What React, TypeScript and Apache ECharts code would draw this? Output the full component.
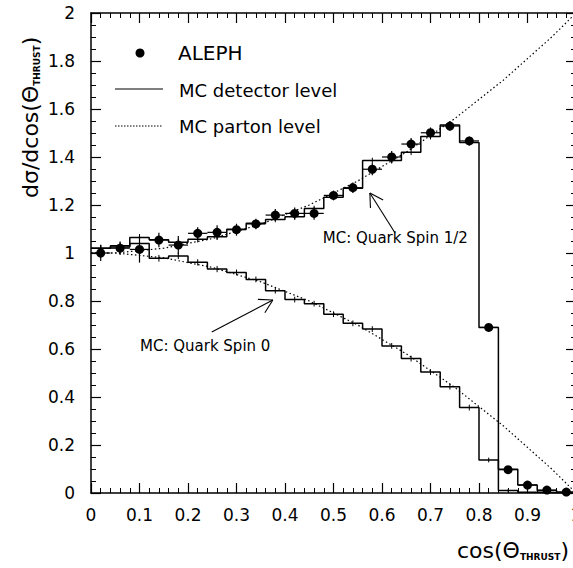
import React, { useEffect, useRef } from "react";
import * as echarts from "echarts";

const FONT = "DejaVu Sans";

// bin structure (cos theta_thrust), 25 bins of 0.04
const binEdges = [0, 0.04, 0.08, 0.12, 0.16, 0.2, 0.24, 0.28, 0.32, 0.36, 0.4, 0.44, 0.48, 0.52, 0.56, 0.6, 0.64, 0.68, 0.72, 0.76, 0.8, 0.84, 0.88, 0.92, 0.96, 1.0];
const binCenters = [0.02, 0.06, 0.1, 0.14, 0.18, 0.22, 0.26, 0.3, 0.34, 0.38, 0.42, 0.46, 0.5, 0.54, 0.58, 0.62, 0.66, 0.7, 0.74, 0.78, 0.82, 0.86, 0.9, 0.94, 0.98];
const binHalfWidth = 0.02;

// ALEPH data
const alephValues = [1.0, 1.02, 1.015, 1.054, 1.033, 1.082, 1.086, 1.097, 1.121, 1.158, 1.165, 1.165, 1.24, 1.272, 1.349, 1.4, 1.454, 1.501, 1.529, 1.467, 0.69, 0.097, 0.033, 0.012, 0.004];
const alephErrors = [0.033, 0.028, 0.055, 0.03, 0.038, 0.025, 0.03, 0.025, 0.022, 0.025, 0.025, 0.026, 0.02, 0.022, 0.025, 0.025, 0.025, 0.022, 0.02, 0.018, 0.012, 0.008, 0.005, 0.004, 0.003];

// MC detector level histograms
const mcSpinHalf = [1.02, 1.03, 1.065, 1.055, 1.045, 1.057, 1.068, 1.099, 1.124, 1.14, 1.151, 1.185, 1.232, 1.27, 1.385, 1.385, 1.42, 1.485, 1.533, 1.46, 0.69, 0.099, 0.033, 0.01, 0.003];
const mcSpinZero = [1.02, 1.025, 1.04, 0.978, 0.9875, 0.961, 0.933, 0.919, 0.89, 0.843, 0.806, 0.789, 0.745, 0.707, 0.683, 0.613, 0.56, 0.504, 0.443, 0.356, 0.1375, 0.01, 0.003, 0.001, 0.0];
const mcErrors = [0.014, 0.014, 0.014, 0.014, 0.013, 0.013, 0.013, 0.012, 0.012, 0.012, 0.012, 0.012, 0.012, 0.012, 0.012, 0.012, 0.012, 0.012, 0.012, 0.012, 0.01, 0.006, 0.004, 0.003, 0.002];

// MC parton level curves
const partonX = [0, 0.05, 0.1, 0.15, 0.2, 0.25, 0.3, 0.35, 0.4, 0.45, 0.5, 0.55, 0.6, 0.65, 0.7, 0.75, 0.8, 0.85, 0.9, 0.95, 1.0];
const partonSpinHalf = [1.0, 1.0, 1.01, 1.02, 1.04, 1.06, 1.09, 1.12, 1.16, 1.2, 1.25, 1.3, 1.36, 1.42, 1.49, 1.56, 1.64, 1.72, 1.81, 1.9, 2.0];
const partonSpinZero = [1.0, 1.0, 0.99, 0.98, 0.96, 0.94, 0.91, 0.88, 0.84, 0.8, 0.75, 0.7, 0.64, 0.58, 0.51, 0.44, 0.36, 0.28, 0.19, 0.1, 0.0];

// annotations: [tipX, tipY, tailX, tailY, labelX, labelY]
const annotationTexts = ["MC: Quark Spin 1/2", "MC: Quark Spin 0"];
const annotationGeom = [
  [0.575, 1.25, 0.627, 1.083, 0.478, 1.062],
  [0.375, 0.804, 0.249, 0.671, 0.101, 0.612],
];

const legendLabels = ["ALEPH", "MC detector level", "MC parton level"];

function histData(values: number[]) {
  const d: number[][] = values.map((v, i) => [binEdges[i], v]);
  d.push([binEdges[binEdges.length - 1], values[values.length - 1]]);
  return d;
}

export default function App() {
  const ref = useRef<HTMLDivElement>(null);
  useEffect(() => {
    const chart = echarts.init(ref.current!, null, { renderer: "svg" });
    const black = "#000";
    const axisCommon = (pos: string, showLabel: boolean, isX: boolean) => ({
      type: "value",
      position: pos,
      min: 0,
      max: isX ? 1 : 2,
      interval: isX ? 0.1 : 0.2,
      axisLine: { show: true, onZero: false, lineStyle: { color: black, width: 1.5 } },
      axisTick: { show: true, inside: true, length: 10, lineStyle: { color: black, width: 1.2 } },
      minorTick: { show: true, splitNumber: isX ? 5 : 4, length: 5, lineStyle: { color: black, width: 1 } },
      splitLine: { show: false },
      axisLabel: {
        show: showLabel,
        margin: isX ? 13 : 16,
        fontSize: 17,
        fontFamily: FONT,
        color: black,
        showMinLabel: true,
        showMaxLabel: true,
        hideOverlap: false,
        formatter: (v: number) => (v === 0 ? "0" : Number.isInteger(v) ? String(v) : v.toFixed(1)),
      },
    });

    const errBarItem = (params: any, api: any) => {
      const x = api.value(0), y = api.value(1), e = api.value(2);
      const h1 = api.coord([x - binHalfWidth, y]);
      const h2 = api.coord([x + binHalfWidth, y]);
      const v1 = api.coord([x, y - e]);
      const v2 = api.coord([x, y + e]);
      return {
        type: "group",
        children: [
          { type: "line", shape: { x1: h1[0], y1: h1[1], x2: h2[0], y2: h2[1] }, style: { stroke: black, lineWidth: 1.2 } },
          { type: "line", shape: { x1: v1[0], y1: v1[1], x2: v2[0], y2: v2[1] }, style: { stroke: black, lineWidth: 1.2 } },
        ],
      };
    };
    const mcErrItem = (params: any, api: any) => {
      const x = api.value(0), y = api.value(1), e = api.value(2);
      const v1 = api.coord([x, y - e]);
      const v2 = api.coord([x, y + e]);
      return { type: "line", shape: { x1: v1[0], y1: v1[1], x2: v2[0], y2: v2[1] }, style: { stroke: black, lineWidth: 1 } };
    };
    const annotItem = (params: any, api: any) => {
      const tip = api.coord([api.value(0), api.value(1)]);
      const tail = api.coord([api.value(2), api.value(3)]);
      const lab = api.coord([api.value(4), api.value(5)]);
      const ang = Math.atan2(tail[1] - tip[1], tail[0] - tip[0]);
      const L = 15, da = (30 * Math.PI) / 180;
      const a1 = [tip[0] + L * Math.cos(ang + da), tip[1] + L * Math.sin(ang + da)];
      const a2 = [tip[0] + L * Math.cos(ang - da), tip[1] + L * Math.sin(ang - da)];
      const st = { stroke: black, lineWidth: 1.1 };
      return {
        type: "group",
        children: [
          { type: "line", shape: { x1: tail[0], y1: tail[1], x2: tip[0], y2: tip[1] }, style: st },
          { type: "line", shape: { x1: tip[0], y1: tip[1], x2: a1[0], y2: a1[1] }, style: st },
          { type: "line", shape: { x1: tip[0], y1: tip[1], x2: a2[0], y2: a2[1] }, style: st },
          {
            type: "text",
            x: lab[0],
            y: lab[1],
            style: { text: annotationTexts[params.dataIndex], font: `15px '${FONT}'`, fill: black, align: "left", verticalAlign: "middle" },
          },
        ],
      };
    };

    const option: any = {
      animation: false,
      backgroundColor: "#fff",
      grid: { left: 91, top: 13, width: 485, height: 480, containLabel: false, outerBoundsMode: "none" },
      xAxis: [axisCommon("bottom", true, true), axisCommon("top", false, true)],
      yAxis: [axisCommon("left", true, false), axisCommon("right", false, false)],
      series: [
        {
          type: "line", step: "end", data: histData(mcSpinHalf), showSymbol: false, symbol: "none",
          lineStyle: { color: black, width: 1.5 }, z: 3,
        },
        {
          type: "line", step: "end", data: histData(mcSpinZero), showSymbol: false, symbol: "none",
          lineStyle: { color: black, width: 1.5 }, z: 3,
        },
        {
          type: "custom", renderItem: mcErrItem, encode: { x: 0, y: 1 },
          data: binCenters.map((x, i) => [x, mcSpinHalf[i], mcErrors[i]]), z: 3,
        },
        {
          type: "custom", renderItem: mcErrItem, encode: { x: 0, y: 1 },
          data: binCenters.map((x, i) => [x, mcSpinZero[i], mcErrors[i]]), z: 3,
        },
        {
          type: "line", data: partonX.map((x, i) => [x, partonSpinHalf[i]]), showSymbol: false, symbol: "none",
          lineStyle: { color: black, width: 1.2, type: [1.5, 2.5] }, z: 2,
        },
        {
          type: "line", data: partonX.map((x, i) => [x, partonSpinZero[i]]), showSymbol: false, symbol: "none",
          lineStyle: { color: black, width: 1.2, type: [1.5, 2.5] }, z: 2,
        },
        {
          type: "custom", renderItem: errBarItem, encode: { x: 0, y: 1 },
          data: binCenters.map((x, i) => [x, alephValues[i], alephErrors[i]]), z: 4,
        },
        {
          type: "scatter", symbol: "circle", symbolSize: 9, itemStyle: { color: black, opacity: 1 },
          data: binCenters.map((x, i) => [x, alephValues[i]]), z: 5,
        },
        {
          type: "custom", renderItem: annotItem, encode: { x: 0, y: 1 }, clip: false,
          data: annotationGeom, z: 6,
        },
      ],
      graphic: [
        // legend
        { type: "circle", shape: { cx: 140, cy: 53, r: 4.5 }, style: { fill: black } },
        { type: "text", x: 178, y: 53, style: { text: legendLabels[0], font: `20px '${FONT}'`, fill: black, align: "left", verticalAlign: "middle" } },
        { type: "line", shape: { x1: 115, y1: 89, x2: 163, y2: 89 }, style: { stroke: black, lineWidth: 1.2 } },
        { type: "text", x: 179, y: 90, style: { text: legendLabels[1], font: `18px '${FONT}'`, fill: black, align: "left", verticalAlign: "middle" } },
        { type: "line", shape: { x1: 115, y1: 126, x2: 163, y2: 126 }, style: { stroke: black, lineWidth: 1.2, lineDash: [1.5, 1.5] } },
        { type: "text", x: 179, y: 126, style: { text: legendLabels[2], font: `18px '${FONT}'`, fill: black, align: "left", verticalAlign: "middle" } },
        // y axis title
        {
          type: "text", x: 28, y: 198, rotation: Math.PI / 2,
          style: {
            text: "{m|dσ/dcos(Θ}{s|THRUST}{m|)}",
            align: "left", verticalAlign: "middle", fill: black,
            rich: {
              m: { fontSize: 22, fontFamily: FONT, verticalAlign: "bottom", lineHeight: 26 },
              s: { fontSize: 9, fontWeight: "bold", fontFamily: FONT, verticalAlign: "bottom", lineHeight: 12 },
            },
          },
        },
        // x axis title
        {
          type: "text", x: 569, y: 548,
          style: {
            text: "{m|cos(Θ}{s|THRUST}{m|)}",
            align: "right", verticalAlign: "middle", fill: black,
            rich: {
              m: { fontSize: 22, fontFamily: FONT, verticalAlign: "bottom", lineHeight: 26 },
              s: { fontSize: 9, fontWeight: "bold", fontFamily: FONT, verticalAlign: "bottom", lineHeight: 12 },
            },
          },
        },
      ],
    };
    chart.setOption(option);
    return () => chart.dispose();
  }, []);
  return (
    <div
      ref={ref}
      style={{ position: "fixed", left: 0, top: 0, width: 573, height: 568, background: "#fff" }}
    />
  );
}
